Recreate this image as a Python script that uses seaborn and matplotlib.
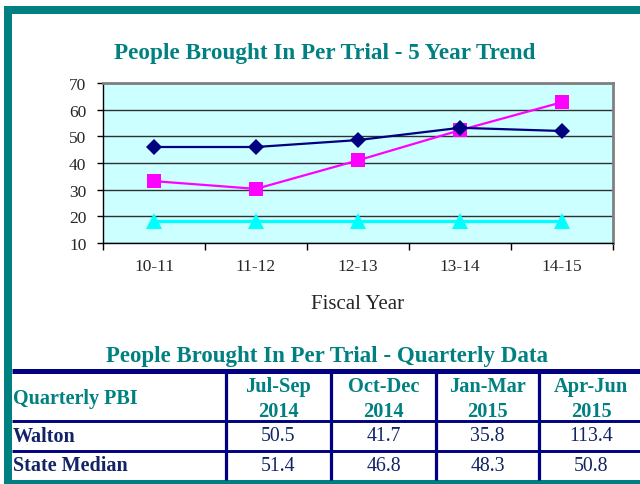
import matplotlib
matplotlib.use("Agg")
import matplotlib.pyplot as plt
from matplotlib.patches import Rectangle
from matplotlib.ticker import FixedLocator, NullFormatter
import pandas as pd
import seaborn as sns

# 5 year trend
years = ['10-11', '11-12', '12-13', '13-14', '14-15']
walton_trend = [33.2, 30.3, 41.0, 52.3, 62.8]
state_trend = [46.0, 46.0, 48.6, 53.2, 52.0]
standard_trend = [18.3, 18.3, 18.3, 18.3, 18.3]

# quarterly table
quarters = ['Jul-Sep\n2014', 'Oct-Dec\n2014', 'Jan-Mar\n2015', 'Apr-Jun\n2015']
row_names = ['Walton', 'State Median']
walton_q = [50.5, 41.7, 35.8, 113.4]
state_q = [51.4, 46.8, 48.3, 50.8]

sns.set_style("ticks")
plt.rcParams['font.family'] = ['Liberation Serif', 'DejaVu Serif']

TEAL = '#008080'
NAVY = '#000080'
TXT = '#122466'

W, H = 640, 485
fig = plt.figure(figsize=(6.4, 4.85), dpi=100)

# background axes in pixel coords for frame, titles and table
bg = fig.add_axes([0, 0, 1, 1])
bg.set_xlim(0, W)
bg.set_ylim(H, 0)
bg.axis('off')

bg.add_patch(Rectangle((4, 7), 8, 478, color=TEAL, lw=0))
bg.add_patch(Rectangle((4, 7), 636, 8, color=TEAL, lw=0))
bg.add_patch(Rectangle((4, 481), 636, 4, color=TEAL, lw=0))

bg.text(325, 54, 'People Brought In Per Trial - 5 Year Trend', color=TEAL,
        fontsize=16.7, fontweight='bold', ha='center', va='center')

# line chart
left, right, top, bottom = 103, 613, 84, 244
ax = fig.add_axes([left / W, (H - bottom) / H, (right - left) / W, (bottom - top) / H])
ax.set_facecolor('#CCFFFF')

df = pd.DataFrame({'year': years, 'walton': walton_trend,
                   'state': state_trend, 'standard': standard_trend})

sns.lineplot(data=df, x='year', y='standard', color='#00FFFF', lw=2.3,
             marker='^', markersize=12, markeredgewidth=0, sort=False, ax=ax, zorder=3)
sns.lineplot(data=df, x='year', y='walton', color='#FF00FF', lw=1.6,
             marker='s', markersize=9.5, markeredgewidth=0, sort=False, ax=ax, zorder=4)
sns.lineplot(data=df, x='year', y='state', color=NAVY, lw=1.6,
             marker='D', markersize=8, markeredgewidth=0, sort=False, ax=ax, zorder=5)

ax.set_xlim(-0.5, len(years) - 0.5)
ax.set_ylim(10, 70)
ax.set_yticks(range(10, 71, 10))
ax.yaxis.grid(True, color='#303030', lw=1)
ax.set_axisbelow(True)

ax.xaxis.set_major_locator(FixedLocator([i - 0.5 for i in range(len(years) + 1)]))
ax.xaxis.set_major_formatter(NullFormatter())
ax.xaxis.set_minor_locator(FixedLocator(range(len(years))))
ax.set_xticklabels(years, minor=True)
ax.tick_params(axis='x', which='major', length=5, width=1, color='black', direction='out')
ax.tick_params(axis='x', which='minor', length=0, pad=11, labelsize=12.5)
ax.tick_params(axis='y', length=4, width=1, color='black', pad=8, labelsize=12.5)

ax.set_xlabel('Fiscal Year', fontsize=15, labelpad=14)
ax.set_ylabel('')

for s in ['left', 'bottom']:
    ax.spines[s].set_color('black')
    ax.spines[s].set_linewidth(1)
for s in ['top', 'right']:
    ax.spines[s].set_color('#808080')
    ax.spines[s].set_linewidth(2)

# quarterly table
bg.text(327, 357, 'People Brought In Per Trial - Quarterly Data', color=TEAL,
        fontsize=16.5, fontweight='bold', ha='center', va='center')

col_edges = [12, 226, 331, 436, 539, 643]
row_edges = [372, 422, 452, 481]

bg.plot([12, 640], [row_edges[0], row_edges[0]], color=NAVY, lw=3.6, solid_capstyle='butt')
for y in row_edges[1:3]:
    bg.plot([12, 640], [y, y], color=NAVY, lw=2.1, solid_capstyle='butt')
for x in col_edges[1:5]:
    bg.plot([x, x], [row_edges[0], row_edges[-1]], color=NAVY, lw=2.3, solid_capstyle='butt')

hdr_y = (row_edges[0] + row_edges[1]) / 2 + 2.5
bg.text(13, hdr_y - 0.5, 'Quarterly PBI', color=TEAL, fontsize=14.5, fontweight='bold',
        ha='left', va='center')
for i, q in enumerate(quarters):
    cx = (col_edges[i + 1] + col_edges[i + 2]) / 2
    bg.text(cx, hdr_y, q, color=TEAL, fontsize=14.7, fontweight='bold',
            ha='center', va='center', linespacing=1.3)

for r, (name, vals) in enumerate(zip(row_names, [walton_q, state_q])):
    cy = (row_edges[r + 1] + row_edges[r + 2]) / 2
    bg.text(13, cy, name, color=TXT, fontsize=14.5, fontweight='bold', ha='left', va='center')
    for i, v in enumerate(vals):
        cx = (col_edges[i + 1] + col_edges[i + 2]) / 2
        bg.text(cx, cy, f'{v:.1f}', color=TXT, fontsize=14.3, ha='center', va='center')

fig.savefig('out.png', dpi=100)
